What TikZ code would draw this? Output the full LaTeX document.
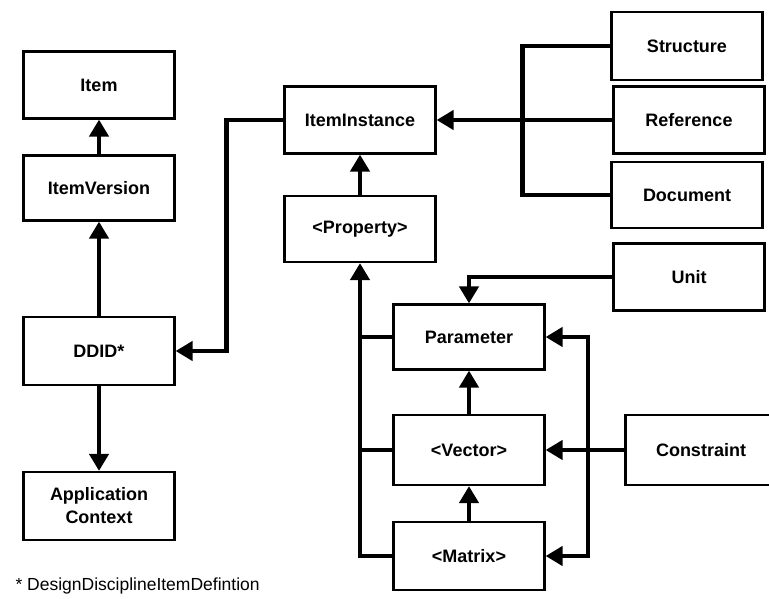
\documentclass[tikz,border=0pt]{standalone}
\usepackage{fontspec}
\setmainfont{Liberation Sans}
\usetikzlibrary{arrows.meta}
\begin{document}
\begin{tikzpicture}[x=1pt, y=-1pt,
	box/.style={draw, line width=2.2pt, minimum width=151pt, minimum height=67pt, inner sep=2pt, align=center, font=\fontsize{18}{23}\selectfont\bfseries},
	conn/.style={line width=4.2pt, -{Triangle[width=19pt, length=17pt]}},
	bar/.style={line width=4.2pt}]
	\useasboundingbox (0,0) rectangle (769,599);

	% Lado izquierdo
		\node[box] (item) at (99,85) {Item};
		\node[box, minimum height=65pt] (itemversion) at (99,188) {ItemVersion};
		\node[box, minimum height=68pt] (ddid) at (99,351) {DDID*};
		\node[box, minimum height=68pt] (appctx) at (99,506) {Application\\Context};

	% Columna central
		\node[box] (iteminst) at (360,120) {ItemInstance};
		\node[box, minimum height=66pt] (property) at (360,229) {<Property>};
		\node[box, minimum height=65pt] (parameter) at (469,337) {Parameter};
		\node[box, minimum height=70pt] (vector) at (469,450) {<Vector>};
		\node[box, minimum height=68pt] (matrix) at (469,556) {<Matrix>};

	% Lado derecho
		\node[box, minimum height=68pt] (structure) at (687,46) {Structure};
		\node[box] (reference) at (689,120) {Reference};
		\node[box, minimum height=66pt] (document) at (687,195) {Document};
		\node[box] (unit) at (689,277) {Unit};
		\node[box, minimum height=70pt] (constraint) at (701,450) {Constraint};

	% Flechas verticales
		\draw[conn] (itemversion) -- (item);
		\draw[conn] (ddid) -- (itemversion);
		\draw[conn] (ddid) -- (appctx);
		\draw[conn] (property) -- (iteminst);
		\draw[conn] (vector) -- (parameter);
		\draw[conn] (matrix) -- (vector);

	% ItemInstance a DDID
		\draw[conn] (iteminst.west) -- ++(-57,0) |- (ddid.east);

	% Structure, Reference, Document
		\draw[conn] (reference.west) -- (iteminst.east);
		\draw[bar] (structure.west) -- ++(-88,0) |- (document.west);

	% Unit
		\draw[conn] (unit.west) -| (parameter.north);

	% Barra izquierda hacia <Property>
		\draw[conn] (matrix.west) -| (property.south);
		\draw[bar] (parameter.west) -- (parameter.west -| property.south);
		\draw[bar] (vector.west) -- (vector.west -| property.south);

	% Barra derecha y Constraint
		\coordinate (rbus) at ([xshift=42pt]vector.east);
		\draw[conn] (constraint.west) -- (vector.east);
		\draw[conn] (rbus) |- (parameter.east);
		\draw[conn] (rbus) |- (matrix.east);

	% Nota
		\node[anchor=west, font=\fontsize{17.5}{21}\selectfont] (note) at (12,586) {* DesignDisciplineItemDefintion};
\end{tikzpicture}
\end{document}
